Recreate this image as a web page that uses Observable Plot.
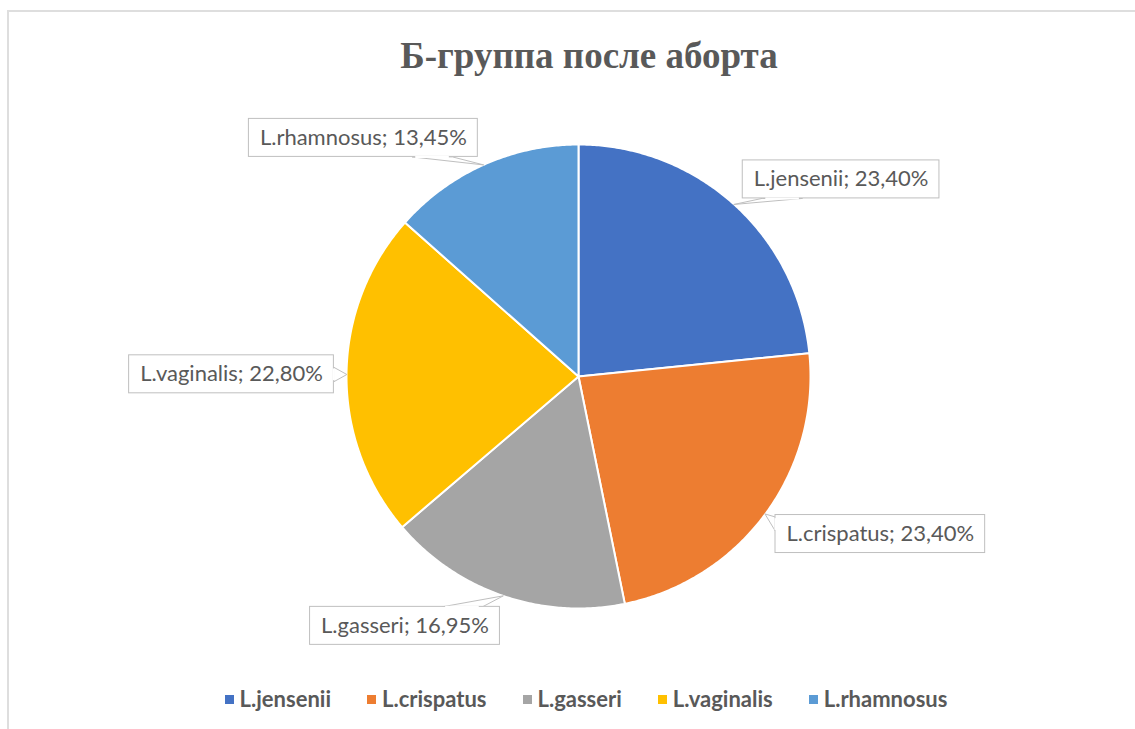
<!DOCTYPE html>
<html><head><meta charset="utf-8">
<script src="https://cdn.jsdelivr.net/npm/d3@7"></script>
<script src="https://cdn.jsdelivr.net/npm/@observablehq/plot@0.6"></script>
<style>
body{margin:0;background:#fff;}
#wrap{position:relative;width:1135px;height:729px;overflow:hidden;font-family:Lato,sans-serif;background:#fff;}
#frame{position:absolute;left:7px;top:10px;width:1200px;height:800px;border-top:2px solid #dedede;border-left:2px solid #dedede;}
#title{position:absolute;left:0;width:1178px;top:34px;text-align:center;font-family:"Liberation Serif",serif;font-weight:bold;font-size:37px;color:#595959;line-height:44px;}
#chart{position:absolute;left:0;top:90px;}
#legend{position:absolute;left:0;width:1172px;top:685px;display:flex;justify-content:center;gap:36px;font-family:Lato,sans-serif;font-weight:bold;font-size:22px;color:#595959;line-height:28px;}
#legend .item{display:flex;align-items:center;}
#legend .sw{display:inline-block;width:9px;height:9px;margin-right:6px;}
</style></head>
<body>
<div id="wrap">
  <div id="frame"></div>
  <div id="title">Б-группа после аборта</div>
  <div id="chart"></div>
  <div id="legend"></div>
</div>
<script>
// ---- data ----
const names = ["L.jensenii", "L.crispatus", "L.gasseri", "L.vaginalis", "L.rhamnosus"];
const values = [23.40, 23.40, 16.95, 22.80, 13.45];
const colors = ["#4472C4", "#ED7D31", "#A5A5A5", "#FFC000", "#5B9BD5"];
// ---- layout (pixels) ----
const labelOffsets = [[107, -25], [115, 20], [-98, 30], [-115, 0], [-120, -27]];
const W = 1135, H = 590, R = 232, CX = 578, CY = 286;
const labelFont = "22px Lato";
const pad = 11, boxH = 38;

const fmt = v => v.toFixed(2).replace(".", ",") + "%";
const total = d3.sum(values);
const ctx = document.createElement("canvas").getContext("2d");
ctx.font = labelFont;

const slicePts = [], wedgePts = [], boxes = [], bases = [];
let acc = 0;
names.forEach((name, i) => {
  const a0 = acc / total * 2 * Math.PI;
  acc += values[i];
  const a1 = acc / total * 2 * Math.PI;
  slicePts.push({name, x: 0, y: 0});
  const n = Math.ceil((a1 - a0) / (Math.PI / 360));
  for (let k = 0; k <= n; k++) {
    const a = a0 + (a1 - a0) * k / n;
    slicePts.push({name, x: Math.sin(a), y: Math.cos(a)});
  }
  // label geometry in px relative to pie centre (y down)
  const m = (a0 + a1) / 2;
  const t = [R * Math.sin(m), -R * Math.cos(m)];
  const c = [t[0] + labelOffsets[i][0], t[1] + labelOffsets[i][1]];
  const label = `${name}; ${fmt(values[i])}`;
  const hw = (ctx.measureText(label).width + 2 * pad) / 2, hh = boxH / 2;
  const d = [t[0] - c[0], t[1] - c[1]];
  let b1, b2;
  if (Math.abs(d[0]) / hw > Math.abs(d[1]) / hh) {
    const ex = c[0] + Math.sign(d[0]) * hw;
    const by = Math.max(c[1] - hh + 9, Math.min(c[1] + hh - 9, t[1]));
    b1 = [ex, by - 7]; b2 = [ex, by + 7];
  } else {
    const ey = c[1] + Math.sign(d[1]) * hh;
    const bx = Math.max(c[0] - hw * 0.6, Math.min(c[0] + hw * 0.6, t[0]));
    b1 = [bx - 20, ey]; b2 = [bx + 20, ey];
  }
  const toD = p => ({x: p[0] / R, y: -p[1] / R});
  [t, b1, b2].forEach(p => wedgePts.push({name, ...toD(p)}));
  const inset = (p, q) => [p[0] + (q[0] - p[0]) * 0.08, p[1] + (q[1] - p[1]) * 0.08];
  const i1 = toD(inset(b1, b2)), i2 = toD(inset(b2, b1));
  bases.push({x1: i1.x, y1: i1.y, x2: i2.x, y2: i2.y});
  boxes.push({label, cx: c[0] / R, cy: -c[1] / R,
    x1: (c[0] - hw) / R, x2: (c[0] + hw) / R, y1: -(c[1] - hh) / R, y2: -(c[1] + hh) / R});
});

const chart = Plot.plot({
  width: W, height: H, margin: 0,
  x: {domain: [-CX / R, (W - CX) / R], range: [0, W], axis: null},
  y: {domain: [-(H - CY) / R, CY / R], range: [H, 0], axis: null},
  color: {domain: names, range: colors},
  style: {background: "transparent", overflow: "visible"},
  marks: [
    Plot.line(slicePts, {x: "x", y: "y", z: "name", fill: "name", stroke: "white", strokeWidth: 2, strokeLinejoin: "round", curve: "linear-closed"}),
    Plot.line(wedgePts, {x: "x", y: "y", z: "name", fill: "white", stroke: "#bfbfbf", strokeWidth: 1, curve: "linear-closed"}),
    Plot.rect(boxes, {x1: "x1", x2: "x2", y1: "y1", y2: "y2", fill: "white", stroke: "#bfbfbf", strokeWidth: 1}),
    Plot.link(bases, {x1: "x1", y1: "y1", x2: "x2", y2: "y2", stroke: "white", strokeWidth: 2}),
    Plot.text(boxes, {x: "cx", y: "cy", text: "label", fontSize: 22, fontFamily: "Lato", fill: "#595959"})
  ]
});
document.getElementById("chart").appendChild(chart);

const legend = document.getElementById("legend");
names.forEach((name, i) => {
  const item = document.createElement("div");
  item.className = "item";
  const sw = document.createElement("span");
  sw.className = "sw";
  sw.style.background = colors[i];
  item.appendChild(sw);
  item.appendChild(document.createTextNode(name));
  legend.appendChild(item);
});
</script>
</body></html>
